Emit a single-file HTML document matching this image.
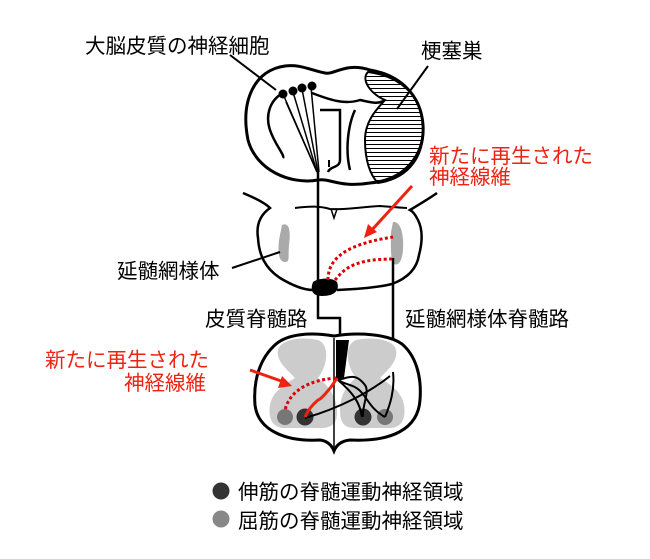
<!DOCTYPE html>
<html><head><meta charset="utf-8"><style>
html,body{margin:0;padding:0;background:#fff;}
svg{display:block;}
text{font-family:"Liberation Sans","Noto Sans CJK JP",sans-serif;font-size:20.5px;}
</style></head><body>
<svg width="650" height="559" viewBox="0 0 650 559" xmlns="http://www.w3.org/2000/svg">
<defs>
<pattern id="h" width="6" height="4" patternUnits="userSpaceOnUse"><line x1="0" y1="0.5" x2="6" y2="0.5" stroke="#000" stroke-width="1"/></pattern>
</defs>
<!-- Brain section -->
<path d="M370,70 C345,62 335,75 325,73 C310,70 300,64 285,66 C255,70 240,100 248,140 C256,170 290,185 318,180 C330,178 340,188 370,183 C405,180 425,155 423,125 C421,95 400,75 370,70 Z" fill="#fff" stroke="#000" stroke-width="3"/>
<path d="M368,72 C360,80 372,95 385,100 C378,108 365,120 365,140 C365,160 370,175 378,183 C410,178 425,155 423,125 C421,95 400,76 368,72 Z" fill="url(#h)" stroke="#000" stroke-width="2"/>
<path d="M283,93 C270,100 265,115 270,130 C275,145 285,155 283,158" fill="none" stroke="#000" stroke-width="2.5"/>
<path d="M312,93 C330,100 345,105 360,100 C370,102 378,105 385,100" fill="none" stroke="#000" stroke-width="2.5"/>
<path d="M320,110 L340,110 L340,160 C340,168 330,166 328,172" fill="none" stroke="#000" stroke-width="2.5"/>
<path d="M355,110 C348,125 345,150 350,170" fill="none" stroke="#000" stroke-width="2.5"/>
<path d="M329,160 L329,167" stroke="#000" stroke-width="2"/>
<g stroke="#000" stroke-width="1.5">
<line x1="283" y1="94" x2="317" y2="172"/><line x1="293" y1="92" x2="317" y2="172"/>
<line x1="302" y1="89" x2="318" y2="172"/><line x1="311" y1="87" x2="319" y2="172"/>
<line x1="286" y1="102" x2="317" y2="172"/>
</g>
<circle cx="283" cy="94" r="4.5"/><circle cx="293" cy="91" r="4.5"/><circle cx="302" cy="88" r="4.5"/><circle cx="312" cy="86" r="4.5"/>
<line x1="230" y1="55" x2="276" y2="90" stroke="#000" stroke-width="2"/>
<line x1="428" y1="66" x2="397" y2="109" stroke="#000" stroke-width="2"/>
<text x="85" y="53">大脳皮質の神経細胞</text>
<text x="421" y="58">梗塞巣</text>
<!-- Medulla -->
<path d="M243,193 C255,198 265,203 270,208 C260,215 256,225 258,238 C259,255 265,268 280,278 C295,287 305,290 313,290 M337,290 C360,289 380,287 392,284 C408,278 417,268 419,255 C423,240 422,228 418,220 C415,214 412,211 410,210 C420,204 430,198 437,193" fill="none" stroke="#000" stroke-width="2.5"/>
<path d="M295,208 C310,206 320,206 330,209 C345,210 360,207 380,206 C395,207 402,208 407,208" fill="none" stroke="#000" stroke-width="2"/>
<path d="M331,209 L334,218 L337,209" fill="none" stroke="#000" stroke-width="1.5"/>
<path d="M282,225 C289,222 291,230 289,245 C288,258 290,262 285,262 C278,262 278,250 279,240 Z" fill="#aaa"/>
<path d="M393,222 C401,221 404,235 403,250 C402,262 398,266 394,264 C390,262 391,240 391,232 Z" fill="#aaa"/>
<path d="M313,282 C318,278 332,277 337,282 C340,290 335,296 322,296 C312,296 310,290 313,282 Z" fill="#000"/>
<line x1="232" y1="268" x2="280" y2="252" stroke="#000" stroke-width="2"/>
<text x="117" y="278">延髄網様体</text>
<!-- main line -->
<path d="M318,172 L318,296 L318,318 L340,318 L340,340" fill="none" stroke="#000" stroke-width="2.5"/>
<line x1="393" y1="258" x2="393" y2="372" stroke="#000" stroke-width="2.5"/>
<!-- red dotted medulla -->
<path d="M328,280 C328,262 340,245 393,237" fill="none" stroke="#d00" stroke-width="3" stroke-dasharray="3,2.5"/>
<path d="M335,280 C345,268 355,259 393,259" fill="none" stroke="#d00" stroke-width="3" stroke-dasharray="3,2.5"/>
<line x1="412" y1="186" x2="370" y2="232" stroke="#e21" stroke-width="3"/>
<path d="M364,238 L368,224 L377,232 Z" fill="#e21"/>
<text x="429" y="163" fill="#e21">新たに再生された</text>
<text x="429" y="184" fill="#e21">神経線維</text>
<text x="205" y="326">皮質脊髄路</text>
<text x="405" y="326">延髄網様体脊髄路</text>
<!-- Spinal cord -->
<path d="M334,336 C310,332 288,334 276,344 C260,358 253,380 255,405 C258,430 285,442 320,440 C328,441 332,446 334,451 C336,446 340,441 350,440 C390,442 418,430 420,400 C422,375 415,355 402,344 C388,334 358,332 334,336 Z" fill="#fff" stroke="#000" stroke-width="3"/>
<path d="M278,350 C280,340 300,336 318,340 C330,345 328,365 318,378 C326,384 336,394 337,410 C338,425 330,428 320,428 L285,428 C272,428 268,418 270,405 C272,392 285,384 295,378 C285,368 276,360 278,350 Z" fill="#ccc"/>
<path d="M396,350 C394,340 374,336 356,340 C344,345 346,365 356,378 C348,384 340,394 340,410 C340,425 346,428 356,428 L390,428 C402,428 406,418 404,405 C402,392 390,384 380,378 C390,368 398,360 396,350 Z" fill="#ccc"/>
<line x1="334" y1="338" x2="334" y2="450" stroke="#000" stroke-width="1.5"/>
<path d="M336,340 L349,340 L344,378 L336,380 Z" fill="#000"/>
<circle cx="285" cy="417" r="8" fill="#777"/>
<circle cx="305" cy="417" r="8.5" fill="#333"/>
<circle cx="363" cy="417" r="8.5" fill="#333"/>
<circle cx="385" cy="417" r="8" fill="#777"/>
<g fill="none" stroke="#000" stroke-width="2">
<path d="M338,380 C345,385 355,384 362,393 C368,400 372,410 385,417"/>
<path d="M338,380 C352,392 360,402 362,417"/>
<path d="M305,418 C340,408 370,392 390,376"/>
<path d="M393,372 C395,390 390,405 385,417"/>
<path d="M338,380 C348,378 355,372 365,385 C370,392 362,405 363,417"/>
</g>
<path d="M337,378 C330,390 320,400 318,400 C312,405 308,410 305,417" fill="none" stroke="#e21" stroke-width="3"/>
<path d="M336,378 C310,380 290,390 285,410" fill="none" stroke="#d00" stroke-width="3" stroke-dasharray="3,2.5"/>
<line x1="250" y1="370" x2="284" y2="382" stroke="#e21" stroke-width="3"/>
<path d="M292,386 L278,388 L282,376 Z" fill="#e21"/>
<text x="45" y="367" fill="#e21">新たに再生された</text>
<text x="124" y="390" fill="#e21">神経線維</text>
<!-- legend -->
<circle cx="221" cy="491" r="8.5" fill="#333"/>
<circle cx="221" cy="519" r="8.5" fill="#888"/>
<text x="238" y="499">伸筋の脊髄運動神経領域</text>
<text x="238" y="528">屈筋の脊髄運動神経領域</text>
</svg>
</body></html>
